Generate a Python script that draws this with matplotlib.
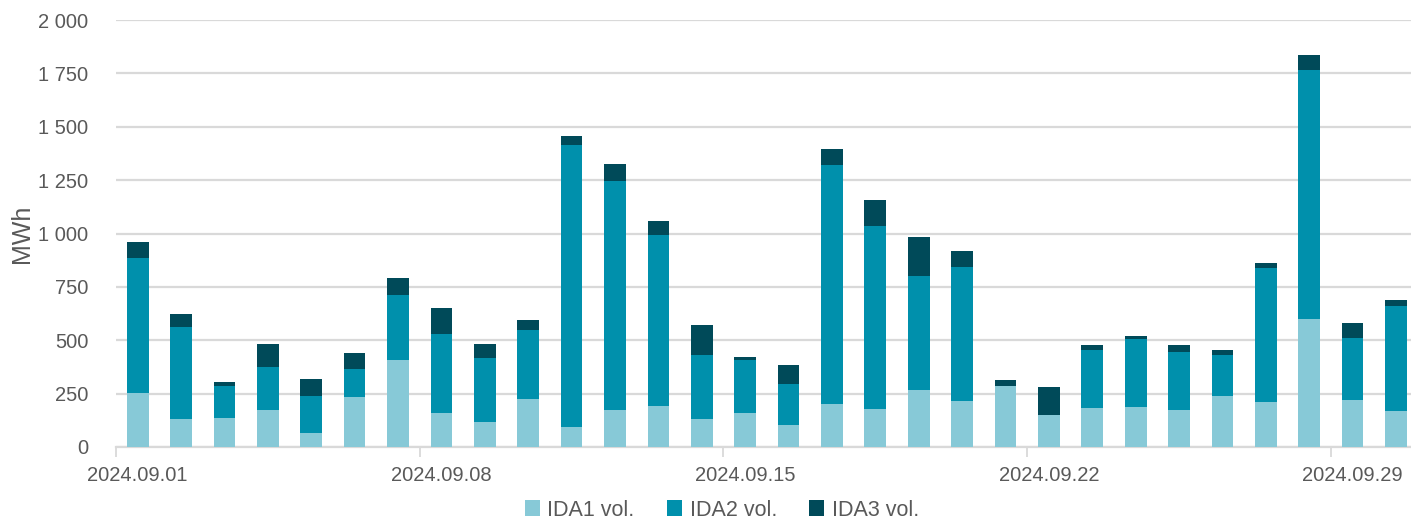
import numpy as np
import matplotlib as mpl
mpl.use('Agg')
import matplotlib.pyplot as plt

plt.rcParams['font.family'] = ['Liberation Sans', 'DejaVu Sans']

# daily volumes, 2024.09.01 .. 2024.09.30 (MWh)
days = ['2024.09.%02d' % d for d in range(1, 31)]
ida1 = [253, 133, 136, 175, 66, 234, 407, 159, 117, 226,
        94, 173, 190, 131, 159, 103, 203, 179, 268, 215,
        284, 148, 184, 189, 175, 240, 212, 600, 220, 167]
ida2 = [631, 427, 151, 199, 174, 131, 307, 371, 299, 321,
        1320, 1071, 805, 299, 248, 193, 1118, 855, 532, 630,
        3, 2, 270, 316, 271, 193, 627, 1168, 290, 493]
ida3 = [75, 64, 19, 109, 80, 76, 77, 120, 67, 46,
        44, 80, 62, 141, 16, 88, 73, 125, 182, 72,
        26, 132, 25, 14, 30, 21, 23, 67, 72, 28]
label_days = [1, 8, 15, 22, 29]
yticks = [0, 250, 500, 750, 1000, 1250, 1500, 1750, 2000]

c1, c2, c3 = '#87C9D7', '#0090AC', '#004A59'
grey_txt = '#595959'
grid_col = '#D9D9D9'

fig = plt.figure(figsize=(14.11, 5.22), dpi=100)
ax = fig.add_axes([116 / 1411, 75 / 522, 1301.7 / 1411, 427 / 522])

x = np.arange(1, 31)
b1 = np.array(ida1)
b2 = np.array(ida2)
b3 = np.array(ida3)
ax.bar(x, b1, width=0.5, color=c1, label='IDA1 vol.', zorder=3)
ax.bar(x, b2, width=0.5, bottom=b1, color=c2, label='IDA2 vol.', zorder=3)
ax.bar(x, b3, width=0.5, bottom=b1 + b2, color=c3, label='IDA3 vol.', zorder=3)

ax.set_xlim(0.5, 30.5)
ax.set_ylim(0, 2000)
ax.set_yticks(yticks)
ax.set_yticklabels([('%d' % v) if v < 1000 else '%d %03d' % (v // 1000, v % 1000)
                    for v in yticks])
ax.yaxis.grid(True, color=grid_col, linewidth=1.6, zorder=0)
ax.set_axisbelow(True)

ax.set_xticks(label_days)
ax.set_xticklabels([days[d - 1] for d in label_days])
ax.set_xticks([d - 0.5 for d in label_days], minor=True)
ax.tick_params(axis='x', which='major', length=0, pad=14,
               labelsize=14.5, labelcolor=grey_txt)
ax.tick_params(axis='x', which='minor', length=7, width=1.3, color=grid_col)
ax.tick_params(axis='y', length=0, pad=20, labelsize=14.5, labelcolor=grey_txt)

for s in ['top', 'right', 'left']:
    ax.spines[s].set_visible(False)
ax.spines['bottom'].set_color(grid_col)
ax.spines['bottom'].set_linewidth(1.6)

ax.set_ylabel('MWh', fontsize=18, color=grey_txt, labelpad=3)

fig.legend(loc='center', bbox_to_anchor=(722 / 1411, 1 - 510 / 522), ncol=3,
           frameon=False, fontsize=15.5, labelcolor=grey_txt,
           handlelength=0.7, handleheight=0.7, handletextpad=0.35,
           columnspacing=1.5)

fig.savefig('out.png', dpi=100)
